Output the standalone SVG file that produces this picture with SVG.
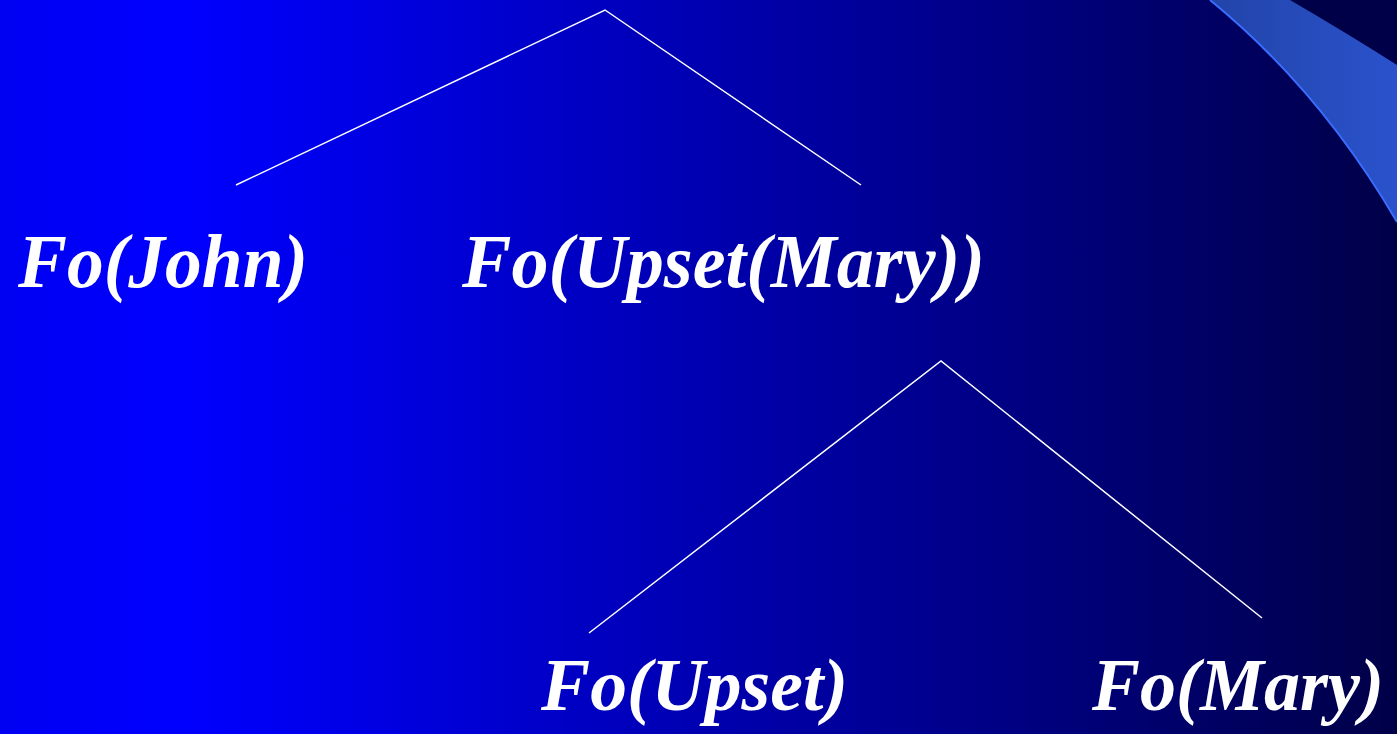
<svg xmlns="http://www.w3.org/2000/svg" width="1397" height="734" viewBox="0 0 1397 734">
<defs>
<linearGradient id="bg" x1="0" y1="0" x2="1" y2="0">
<stop offset="0" stop-color="#0000F2"/>
<stop offset="0.13" stop-color="#0000FF"/>
<stop offset="1" stop-color="#000048"/>
</linearGradient>
<linearGradient id="band" x1="0" y1="0" x2="1" y2="0">
<stop offset="0" stop-color="#2244A8"/>
<stop offset="1" stop-color="#2A52CC"/>
</linearGradient>
<style>
.lbl{font-family:"Liberation Serif","Times New Roman",serif;font-weight:bold;font-style:italic;font-size:77px;fill:#fff}
.low{font-size:75px}
.edge{stroke:#fff;stroke-width:1.5;fill:none}
</style>
</defs>
<rect width="1397" height="734" fill="url(#bg)"/>
<path d="M1290,0 L1397,0 L1397,65 Z" fill="#000048"/>
<path d="M1210,0 L1290,0 Q1350,35 1397,65 L1397,222 Q1320,90 1210,0 Z" fill="url(#band)"/>
<path d="M1210,0 Q1320,90 1397,222" fill="none" stroke="#3A6CFF" stroke-width="2"/>
<g id="connectors">
<polyline class="edge" points="236,185 605,10 861,185"/>
<polyline class="edge" points="589,633 941,361 1262,618"/>
</g>
<g id="n-john"><text class="lbl" x="18" y="287" textLength="290" lengthAdjust="spacingAndGlyphs">Fo(John)</text></g>
<g id="n-upsetmary"><text class="lbl" x="462" y="287" textLength="523" lengthAdjust="spacingAndGlyphs">Fo(Upset(Mary))</text></g>
<g id="n-upset"><text class="lbl low" x="541" y="710" textLength="307" lengthAdjust="spacingAndGlyphs">Fo(Upset)</text></g>
<g id="n-mary"><text class="lbl low" x="1092" y="710" textLength="292" lengthAdjust="spacingAndGlyphs">Fo(Mary)</text></g>
</svg>
